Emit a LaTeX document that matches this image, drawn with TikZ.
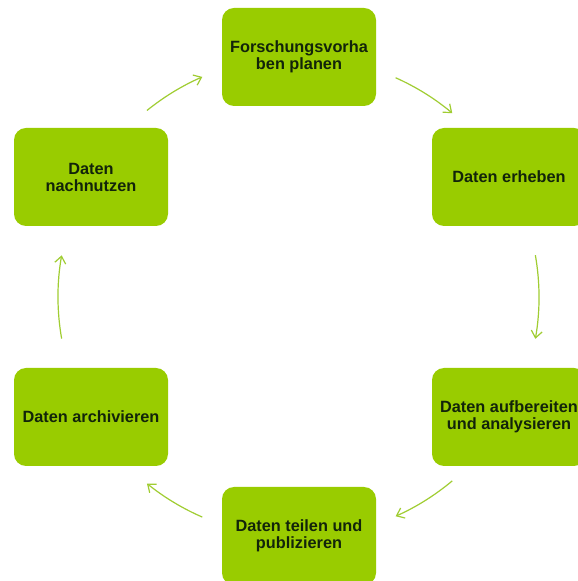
\documentclass[tikz,border=0pt]{standalone}
\usepackage{fontspec}
\setmainfont{Liberation Sans}
\usetikzlibrary{arrows.meta}
\definecolor{boxgreen}{RGB}{153,204,0}
\definecolor{txtdark}{RGB}{18,36,10}
\definecolor{arrgreen}{RGB}{160,205,50}
\tikzset{
  stepbox/.style={rectangle, rounded corners=12pt, fill=boxgreen, draw=none,
    minimum width=154pt, minimum height=98pt, inner sep=0pt,
    align=center, text=txtdark,
    font=\fontsize{16.3pt}{17pt}\selectfont\bfseries},
  cyc/.style={draw=arrgreen, line width=1.2pt,
    -{Straight Barb[length=7pt,width=11pt,line width=1.2pt]}}
}
\begin{document}
\begin{tikzpicture}[x=1pt,y=1pt]
\useasboundingbox (0,0) rectangle (578,581);
\clip (0,0) rectangle (578,581);
\fill[white] (0,0) rectangle (578,581);
\node[stepbox] (plan) at (299,524) {Forschungsvorha\\ben planen};
\node[stepbox] (erheb) at (509,404) {Daten erheben};
\node[stepbox] (aufb) at (509,164) {Daten aufbereiten\\und analysieren};
\node[stepbox] (teil) at (299,45) {Daten teilen und\\publizieren};
\node[stepbox] (arch) at (91,164) {Daten archivieren};
\node[stepbox] (nach) at (91,404) {Daten\\nachnutzen};
\coordinate (ctr) at (298,284);
\coordinate (a1) at ([shift={(129:240)}]ctr);
\coordinate (a2) at ([shift={(66:240)}]ctr);
\coordinate (a3) at ([shift={(10:241)}]ctr);
\coordinate (a4) at ([shift={(-50:240)}]ctr);
\coordinate (a5) at ([shift={(-113.5:240)}]ctr);
\coordinate (a6) at ([shift={(190:240)}]ctr);
\draw[cyc] (a1) arc[start angle=129, end angle=113.5, radius=240];
\draw[cyc] (a2) arc[start angle=66, end angle=50, radius=240];
\draw[cyc] (a3) arc[start angle=10, end angle=-10, radius=241];
\draw[cyc] (a4) arc[start angle=-50, end angle=-66, radius=240];
\draw[cyc] (a5) arc[start angle=-113.5, end angle=-129, radius=240];
\draw[cyc] (a6) arc[start angle=190, end angle=170, radius=240];
\end{tikzpicture}
\end{document}
